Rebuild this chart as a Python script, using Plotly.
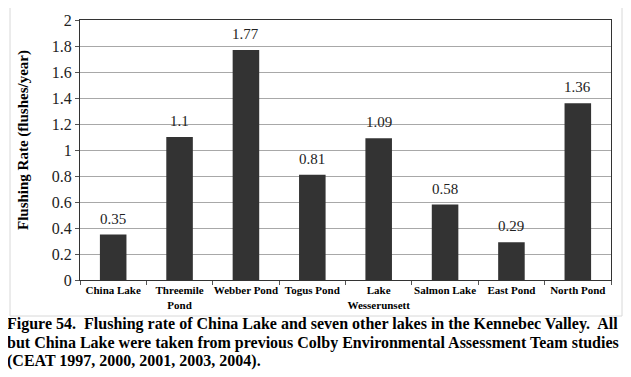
import plotly.graph_objects as go

lakes = ["China Lake", "Threemile<br>Pond", "Webber Pond", "Togus Pond",
         "Lake<br>Wesserunsett", "Salmon Lake", "East Pond", "North Pond"]
rates = [0.35, 1.1, 1.77, 0.81, 1.09, 0.58, 0.29, 1.36]
rate_labels = ["0.35", "1.1", "1.77", "0.81", "1.09", "0.58", "0.29", "1.36"]
y_ticks = [0, 0.2, 0.4, 0.6, 0.8, 1, 1.2, 1.4, 1.6, 1.8, 2]
y_tick_text = ["0", "0.2", "0.4", "0.6", "0.8", "1", "1.2", "1.4", "1.6", "1.8", "2"]
caption_lines = [
    "Figure 54.  Flushing rate of China Lake and seven other lakes in the Kennebec Valley.  All",
    "but China Lake were taken from previous Colby Environmental Assessment Team studies",
    "(CEAT 1997, 2000, 2001, 2003, 2004).",
]

serif = "Liberation Serif"

fig = go.Figure(go.Bar(
    x=lakes, y=rates, marker=dict(color="#333333", line=dict(width=0)),
    width=0.4, hoverinfo="x+y",
))

annotations = []
for lk, v, t in zip(lakes, rates, rate_labels):
    annotations.append(dict(x=lk, y=v, text=t, showarrow=False, yanchor="bottom",
                            yshift=6, font=dict(family=serif, size=15, color="#222")))

caption_y = [324, 343, 361]
for line, py in zip(caption_lines, caption_y):
    annotations.append(dict(x=(5 - 80) / 531, y=(280 - py) / 260, xref="paper", yref="paper",
                            xanchor="left", yanchor="middle", showarrow=False, text="<b>" + line + "</b>",
                            font=dict(family=serif, size=16, color="#000")))

annotations.append(dict(x=(23 - 80) / 531, y=(280 - 140) / 260, xref="paper", yref="paper",
                        text="<b>Flushing Rate (flushes/year)</b>", textangle=-90, showarrow=False,
                        xanchor="center", yanchor="middle",
                        font=dict(family=serif, size=15, color="#000")))

# page has an 8px body margin: figure origin sits at (8, 8)
fig.update_layout(
    width=623, height=369,
    margin=dict(l=72, r=20, t=12, b=97),
    paper_bgcolor="white", plot_bgcolor="white",
    showlegend=False,
    annotations=annotations,
    font=dict(family=serif),
    shapes=[dict(type="rect", xref="paper", yref="paper",
                 x0=(10 - 80) / 531, x1=(622 - 80) / 531,
                 y0=(280 - 316) / 260, y1=(280 - 7) / 260,
                 line=dict(color="#d8d8d8", width=1), layer="below")],
    xaxis=dict(showline=True, linecolor="#333", linewidth=1, mirror=True,
               ticks="outside", tickson="boundaries", ticklen=4, tickcolor="#555",
               tickangle=0, automargin=False,
               tickfont=dict(family=serif, size=11, color="#000", weight="bold"),
               showgrid=False),
    yaxis=dict(range=[0, 2], tickvals=y_ticks, ticktext=y_tick_text,
               showline=True, linecolor="#333", linewidth=1, mirror=True,
               ticks="outside", ticklen=4, tickcolor="#555", automargin=False,
               gridcolor="#a8a8a8", gridwidth=1,
               tickfont=dict(family=serif, size=16, color="#222"), zeroline=False),
)

fig.write_html("out.html")
